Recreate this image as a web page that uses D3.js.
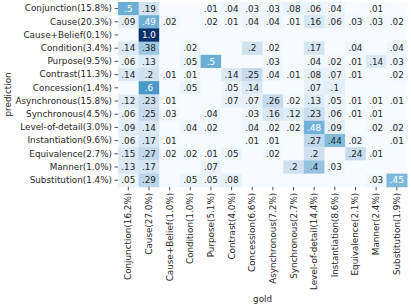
<!DOCTYPE html>
<html>
<head>
<meta charset="utf-8">
<script src="https://cdn.jsdelivr.net/npm/d3@7"></script>
<style>
  body { margin: 0; background: #fff; }
  text { font-family: "DejaVu Sans", sans-serif; }
</style>
</head>
<body>
<svg id="chart" width="411" height="308"></svg>
<script>
// rows = predicted label, cols = gold label
const predLabels = ["Conjunction(15.8%)", "Cause(20.3%)", "Cause+Belief(0.1%)", "Condition(3.4%)",
  "Purpose(9.5%)", "Contrast(11.3%)", "Concession(1.4%)", "Asynchronous(15.8%)", "Synchronous(4.5%)",
  "Level-of-detail(3.0%)", "Instantiation(9.6%)", "Equivalence(2.7%)", "Manner(1.0%)", "Substitution(1.4%)"];

const goldLabels = ["Conjunction(16.2%)", "Cause(27.0%)", "Cause+Belief(1.0%)", "Condition(1.0%)",
  "Purpose(5.1%)", "Contrast(4.0%)", "Concession(6.6%)", "Asynchronous(7.2%)", "Synchronous(2.7%)",
  "Level-of-detail(14.4%)", "Instantiation(8.6%)", "Equivalence(2.1%)", "Manner(2.4%)", "Substitution(1.9%)"];

// 0 = empty cell (no annotation)
const matrix = [
  [.5,  .19, 0,   0,   .01, .04, .03, .03, .08, .06, .04, 0,   .01, 0],
  [.09, .49, .02, 0,   .02, .01, .04, .04, .01, .16, .06, .03, .03, .02],
  [0,   1.0, 0,   0,   0,   0,   0,   0,   0,   0,   0,   0,   0,   0],
  [.14, .38, 0,   .02, 0,   0,   .2,  .02, 0,   .17, 0,   .04, 0,   .04],
  [.06, .13, 0,   .05, .5,  0,   0,   .03, 0,   .04, .02, .01, .14, .03],
  [.14, .2,  .01, .01, 0,   .14, .25, .04, .01, .08, .07, .01, 0,   .02],
  [0,   .6,  0,   .05, 0,   .05, .14, 0,   0,   .07, .1,  0,   0,   0],
  [.12, .23, .01, 0,   0,   .07, .07, .26, .02, .13, .05, .01, .01, .01],
  [.06, .25, .03, 0,   .04, 0,   .03, .16, .12, .23, .06, .01, .01, 0],
  [.09, .14, 0,   .04, .02, 0,   .04, .02, .02, .48, .09, 0,   .02, .02],
  [.06, .17, .01, 0,   0,   0,   .01, .01, 0,   .27, .44, .02, 0,   .01],
  [.15, .27, .02, .02, .01, .05, 0,   .02, 0,   .2,  0,   .24, .01, 0],
  [.13, .17, 0,   0,   .07, 0,   0,   0,   .2,  .4,  .03, 0,   0,   0],
  [.05, .29, 0,   .05, .05, .08, 0,   0,   0,   0,   0,   0,   .03, .45]
];

const blues = ["#f7fbff", "#deebf7", "#c6dbef", "#9ecae1", "#6baed6", "#4292c6", "#2171b5", "#08519c", "#08306b"];

const margin = { left: 118, top: 2 };
const cellW = 20.65, cellH = 13.2;
const fontSize = 8.8;
const ink = "#262626";

const svg = d3.select("#chart");

const x = d3.scaleBand().domain(d3.range(goldLabels.length))
  .range([margin.left, margin.left + cellW * goldLabels.length]);
const y = d3.scaleBand().domain(d3.range(predLabels.length))
  .range([margin.top, margin.top + cellH * predLabels.length]);

const color = d3.scaleLinear()
  .domain(blues.map((_, i) => i / (blues.length - 1)))
  .range(blues)
  .interpolate(d3.interpolateRgb);

const fmt = v => v >= 1 ? v.toFixed(1) : String(+v.toFixed(2)).replace(/^0/, "");

const cells = matrix.flatMap((row, r) => row.map((v, c) => ({ r, c, v })));

svg.append("g").selectAll("rect")
  .data(cells)
  .enter().append("rect")
    .attr("x", d => x(d.c))
    .attr("y", d => y(d.r))
    .attr("width", x.bandwidth() + 0.4)
    .attr("height", y.bandwidth() + 0.4)
    .attr("fill", d => color(d.v));

svg.append("g").selectAll("text")
  .data(cells.filter(d => d.v > 0))
  .enter().append("text")
    .attr("x", d => x(d.c) + x.bandwidth() / 2)
    .attr("y", d => y(d.r) + y.bandwidth() / 2)
    .attr("text-anchor", "middle")
    .attr("dy", "0.36em")
    .attr("font-size", fontSize)
    .attr("fill", d => d.v >= 0.45 ? "#ffffff" : ink)
    .text(d => fmt(d.v));

// y axis (prediction)
const yAxis = d3.axisLeft(y).tickSize(3.5).tickPadding(2.5).tickFormat(i => predLabels[i]);
const gy = svg.append("g").attr("transform", `translate(${margin.left},0)`).call(yAxis);
gy.select(".domain").remove();
gy.selectAll("text").attr("font-size", fontSize).attr("fill", ink).attr("font-family", "DejaVu Sans, sans-serif");
gy.selectAll("line").attr("stroke", ink).attr("stroke-width", 0.8);

// x axis (gold)
const bottom = margin.top + cellH * predLabels.length;
const xAxis = d3.axisBottom(x).tickSize(3.5).tickPadding(2.5).tickFormat(i => goldLabels[i]);
const gx = svg.append("g").attr("transform", `translate(0,${bottom})`).call(xAxis);
gx.select(".domain").remove();
gx.selectAll("text")
  .attr("font-size", fontSize).attr("fill", ink).attr("font-family", "DejaVu Sans, sans-serif")
  .attr("transform", "rotate(-90)")
  .attr("text-anchor", "end")
  .attr("dy", "0.34em")
  .attr("x", -6)
  .attr("y", 0);
gx.selectAll("line").attr("stroke", ink).attr("stroke-width", 0.8);

svg.append("text")
  .attr("x", margin.left + cellW * goldLabels.length / 2)
  .attr("y", 302)
  .attr("text-anchor", "middle")
  .attr("font-size", fontSize)
  .attr("fill", ink)
  .text("gold");

svg.append("text")
  .attr("transform", `translate(11,${margin.top + cellH * predLabels.length / 2}) rotate(-90)`)
  .attr("text-anchor", "middle")
  .attr("font-size", fontSize)
  .attr("fill", ink)
  .text("prediction");
</script>
</body>
</html>
